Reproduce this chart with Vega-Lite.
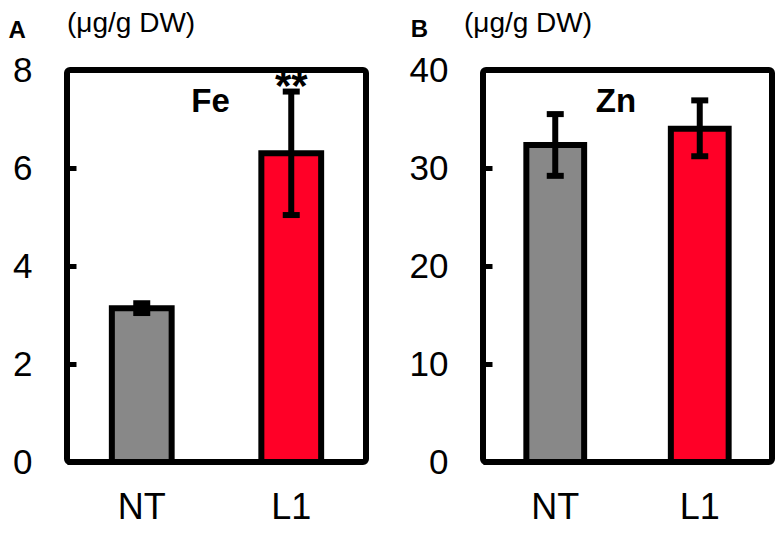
{
  "$schema": "https://vega.github.io/schema/vega-lite/v6.json",
  "padding": {"left": 5, "top": 6, "right": 5, "bottom": 5},
  "background": "white",
  "datasets": {
    "fe": [
      {"g": "NT", "v": 3.14, "lo": 3.04, "hi": 3.24},
      {"g": "L1", "v": 6.30, "lo": 5.04, "hi": 7.56}
    ],
    "zn": [
      {"g": "NT", "v": 32.35, "lo": 29.2, "hi": 35.5},
      {"g": "L1", "v": 34.0, "lo": 31.2, "hi": 36.9}
    ],
    "feStar": [{"g": "L1", "py": 7.39, "t": "**"}],
    "feName": [{"px": 0.48, "py": 7.14, "t": "Fe"}],
    "znName": [{"px": 0.46, "py": 35.7, "t": "Zn"}],
    "feTag": [{"px": -0.167, "py": 8.65, "t": "A"}],
    "znTag": [{"px": -0.22, "py": 43.37, "t": "B"}],
    "feUnit": [{"px": 0.0, "py": 8.78, "t": "(μg/g DW)"}],
    "znUnit": [{"px": -0.066, "py": 43.88, "t": "(μg/g DW)"}]
  },
  "config": {
    "view": {"stroke": "black", "strokeWidth": 6, "cornerRadius": 3},
    "font": "Liberation Sans",
    "axis": {
      "domain": false,
      "grid": false,
      "labelFont": "Liberation Sans",
      "labelColor": "black",
      "tickColor": "black",
      "title": null,
      "zindex": 1
    }
  },
  "spacing": 37,
  "hconcat": [
    {
      "width": 299,
      "height": 392,
      "layer": [
        {
          "data": {"name": "fe"},
          "layer": [
            {
              "mark": {"type": "bar", "stroke": "black", "strokeWidth": 6},
              "encoding": {
                "x": {"field": "g", "type": "nominal", "sort": ["NT", "L1"], "title": null,
                      "scale": {"paddingInner": 0.6, "paddingOuter": 0.3},
                      "axis": {"labelFontSize": 36, "labelPadding": 28, "ticks": false, "labelAngle": 0}},
                "y": {"field": "v", "type": "quantitative", "title": null,
                      "scale": {"domain": [0, 8], "nice": false},
                      "axis": {"values": [0, 2, 4, 6, 8], "labelFontSize": 35, "labelPadding": 35, "offset": -9, "tickSize": 9, "tickWidth": 5}},
                "color": {"field": "g", "type": "nominal", "legend": null,
                          "scale": {"domain": ["NT", "L1"], "range": ["#888888", "#FF0027"]}}
              }
            },
            {
              "mark": {"type": "rule", "strokeWidth": 6, "color": "black"},
              "encoding": {
                "x": {"field": "g", "type": "nominal", "sort": ["NT", "L1"], "title": null},
                "y": {"field": "lo", "type": "quantitative", "title": null, "scale": {"domain": [0, 8], "nice": false}},
                "y2": {"field": "hi"}
              }
            },
            {
              "mark": {"type": "tick", "thickness": 6, "size": 17, "color": "black", "opacity": 1},
              "encoding": {
                "x": {"field": "g", "type": "nominal", "sort": ["NT", "L1"], "title": null},
                "y": {"field": "lo", "type": "quantitative", "title": null, "scale": {"domain": [0, 8], "nice": false}}
              }
            },
            {
              "mark": {"type": "tick", "thickness": 6, "size": 17, "color": "black", "opacity": 1},
              "encoding": {
                "x": {"field": "g", "type": "nominal", "sort": ["NT", "L1"], "title": null},
                "y": {"field": "hi", "type": "quantitative", "title": null, "scale": {"domain": [0, 8], "nice": false}}
              }
            },
            {
              "data": {"name": "feStar"},
              "mark": {"type": "text", "fontSize": 42, "fontWeight": "bold", "align": "center", "baseline": "alphabetic", "color": "black"},
              "encoding": {
                "x": {"field": "g", "type": "nominal", "sort": ["NT", "L1"], "title": null},
                "y": {"field": "py", "type": "quantitative", "title": null, "scale": {"domain": [0, 8], "nice": false}},
                "text": {"field": "t"}
              }
            }
          ]
        },
        {
          "layer": [
            {
              "data": {"name": "feName"},
              "mark": {"type": "text", "fontSize": 33, "fontWeight": "bold", "align": "center", "baseline": "alphabetic", "color": "black"},
              "encoding": {
                "x": {"field": "px", "type": "quantitative", "title": null, "scale": {"domain": [0, 1]}, "axis": null},
                "y": {"field": "py", "type": "quantitative", "title": null, "scale": {"domain": [0, 8], "nice": false}},
                "text": {"field": "t"}
              }
            },
            {
              "data": {"name": "feTag"},
              "mark": {"type": "text", "fontSize": 24, "fontWeight": "bold", "align": "center", "baseline": "alphabetic", "color": "black"},
              "encoding": {
                "x": {"field": "px", "type": "quantitative", "title": null, "scale": {"domain": [0, 1]}, "axis": null},
                "y": {"field": "py", "type": "quantitative", "title": null, "scale": {"domain": [0, 8], "nice": false}},
                "text": {"field": "t"}
              }
            },
            {
              "data": {"name": "feUnit"},
              "mark": {"type": "text", "fontSize": 28, "align": "left", "baseline": "alphabetic", "color": "black"},
              "encoding": {
                "x": {"field": "px", "type": "quantitative", "title": null, "scale": {"domain": [0, 1]}, "axis": null},
                "y": {"field": "py", "type": "quantitative", "title": null, "scale": {"domain": [0, 8], "nice": false}},
                "text": {"field": "t"}
              }
            }
          ]
        }
      ],
      "resolve": {"scale": {"x": "independent"}, "axis": {"x": "independent"}}
    },
    {
      "width": 289,
      "height": 392,
      "layer": [
        {
          "data": {"name": "zn"},
          "layer": [
            {
              "mark": {"type": "bar", "stroke": "black", "strokeWidth": 6},
              "encoding": {
                "x": {"field": "g", "type": "nominal", "sort": ["NT", "L1"], "title": null,
                      "scale": {"paddingInner": 0.6, "paddingOuter": 0.3},
                      "axis": {"labelFontSize": 36, "labelPadding": 28, "ticks": false, "labelAngle": 0}},
                "y": {"field": "v", "type": "quantitative", "title": null,
                      "scale": {"domain": [0, 40], "nice": false},
                      "axis": {"values": [0, 10, 20, 30, 40], "labelFontSize": 35, "labelPadding": 35, "offset": -9, "tickSize": 9, "tickWidth": 5}},
                "color": {"field": "g", "type": "nominal", "legend": null,
                          "scale": {"domain": ["NT", "L1"], "range": ["#888888", "#FF0027"]}}
              }
            },
            {
              "mark": {"type": "rule", "strokeWidth": 6, "color": "black"},
              "encoding": {
                "x": {"field": "g", "type": "nominal", "sort": ["NT", "L1"], "title": null},
                "y": {"field": "lo", "type": "quantitative", "title": null, "scale": {"domain": [0, 40], "nice": false}},
                "y2": {"field": "hi"}
              }
            },
            {
              "mark": {"type": "tick", "thickness": 6, "size": 17, "color": "black", "opacity": 1},
              "encoding": {
                "x": {"field": "g", "type": "nominal", "sort": ["NT", "L1"], "title": null},
                "y": {"field": "lo", "type": "quantitative", "title": null, "scale": {"domain": [0, 40], "nice": false}}
              }
            },
            {
              "mark": {"type": "tick", "thickness": 6, "size": 17, "color": "black", "opacity": 1},
              "encoding": {
                "x": {"field": "g", "type": "nominal", "sort": ["NT", "L1"], "title": null},
                "y": {"field": "hi", "type": "quantitative", "title": null, "scale": {"domain": [0, 40], "nice": false}}
              }
            }
          ]
        },
        {
          "layer": [
            {
              "data": {"name": "znName"},
              "mark": {"type": "text", "fontSize": 33, "fontWeight": "bold", "align": "center", "baseline": "alphabetic", "color": "black"},
              "encoding": {
                "x": {"field": "px", "type": "quantitative", "title": null, "scale": {"domain": [0, 1]}, "axis": null},
                "y": {"field": "py", "type": "quantitative", "title": null, "scale": {"domain": [0, 40], "nice": false}},
                "text": {"field": "t"}
              }
            },
            {
              "data": {"name": "znTag"},
              "mark": {"type": "text", "fontSize": 24, "fontWeight": "bold", "align": "center", "baseline": "alphabetic", "color": "black"},
              "encoding": {
                "x": {"field": "px", "type": "quantitative", "title": null, "scale": {"domain": [0, 1]}, "axis": null},
                "y": {"field": "py", "type": "quantitative", "title": null, "scale": {"domain": [0, 40], "nice": false}},
                "text": {"field": "t"}
              }
            },
            {
              "data": {"name": "znUnit"},
              "mark": {"type": "text", "fontSize": 28, "align": "left", "baseline": "alphabetic", "color": "black"},
              "encoding": {
                "x": {"field": "px", "type": "quantitative", "title": null, "scale": {"domain": [0, 1]}, "axis": null},
                "y": {"field": "py", "type": "quantitative", "title": null, "scale": {"domain": [0, 40], "nice": false}},
                "text": {"field": "t"}
              }
            }
          ]
        }
      ],
      "resolve": {"scale": {"x": "independent"}, "axis": {"x": "independent"}}
    }
  ]
}
